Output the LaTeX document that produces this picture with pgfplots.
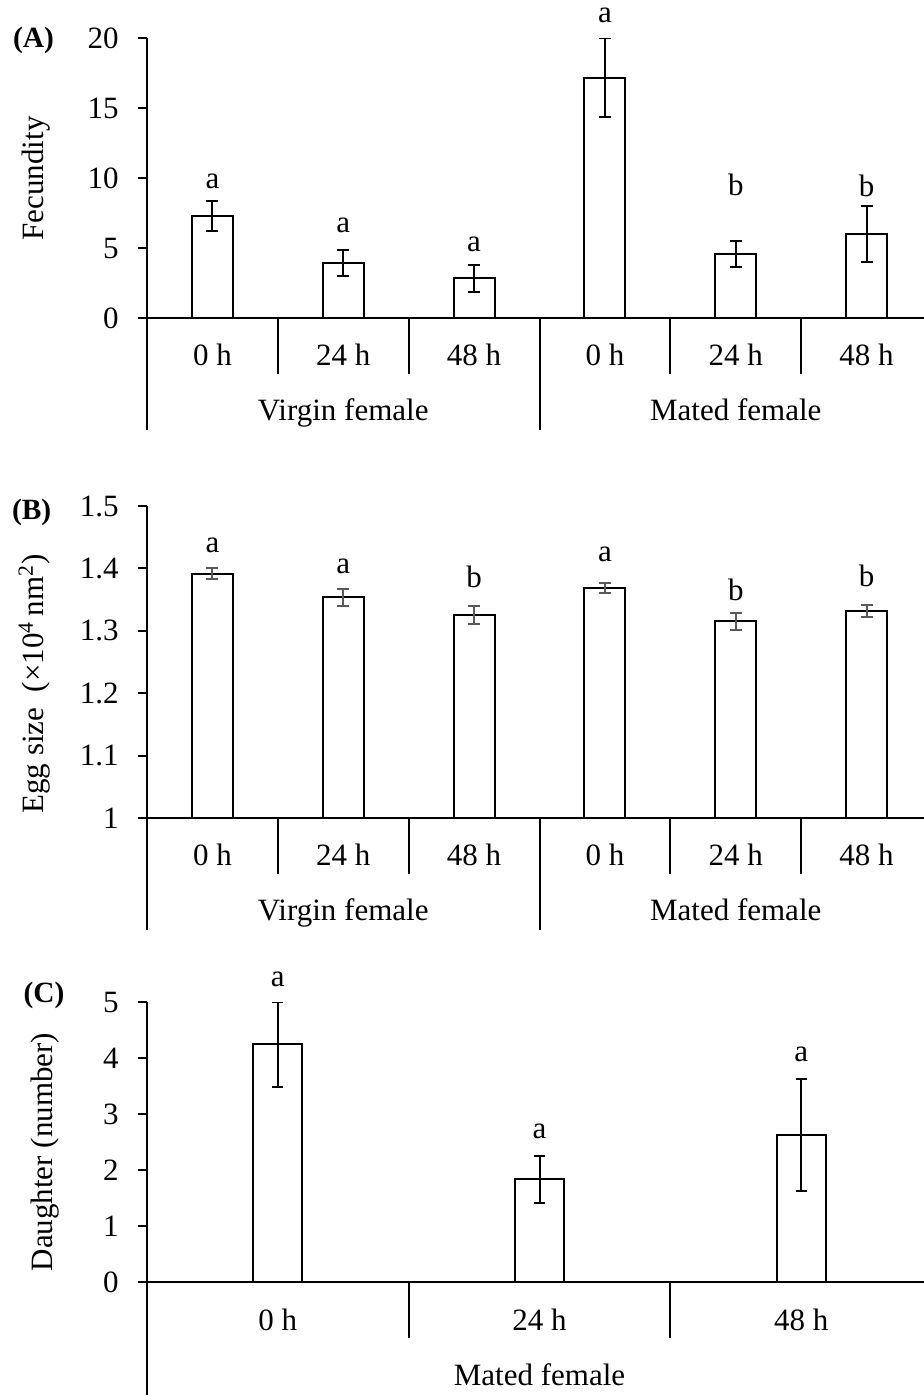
\documentclass[border=0pt]{standalone}
\usepackage{pgfplots}
\pgfplotsset{compat=1.18}
\usepackage{fontspec}
\setmainfont{Liberation Serif}
\newcommand{\fs}{\fontsize{15.5pt}{18pt}\selectfont}
\definecolor{errgray}{RGB}{89,89,89}

\pgfplotstableread{
x  y      e
0  7.31   1.10
1  3.95   0.95
2  2.86   0.95
3  17.19  2.82
4  4.61   0.93
5  6.02   2.03
}\fecund
\pgfplotstableread{
x  y       e
0  1.3916  0.0085
1  1.3538  0.0140
2  1.3260  0.0145
3  1.3680  0.0080
4  1.3153  0.0140
5  1.3323  0.0096
}\eggsize
\pgfplotstableread{
x  y      e
0  4.246  0.755
1  1.840  0.420
2  2.624  1.000
}\daughter

\pgfplotsset{
  panel/.style={
    scale only axis,
    width=392.5pt,
    axis lines*=left,
    axis line style={-, line width=1pt, black},
    tick align=outside,
    major tick length=4.7pt,
    ytick style={line width=1pt, black},
    xtick=\empty,
    clip mode=individual,
    font=\fs,
    tick label style={font=\fs},
    /pgf/number format/assume math mode=true,
    yticklabel style={anchor=east, inner sep=0pt, xshift=-9.3pt},
    every axis y label/.style={at={(axis description cs:-0.1321,0.5)}, rotate=90, anchor=base, font=\fs},
  },
  bars/.style={ybar, fill=white, draw=black, line width=1pt},
}

\begin{document}
\begin{tikzpicture}[font=\fs]
% ---------------- (A) ----------------
\begin{axis}[panel, at={(73.5pt,538.35pt)}, anchor=south west,
  height=140pt, xmin=-0.5, xmax=5.5, ymin=0, ymax=20,
  ytick={0,5,10,15,20}, ylabel={Fecundity}, bar width=20.5pt]
\addplot[bars, error bars/.cd, y dir=both, y explicit,
  error bar style={line width=1pt, black},
  error mark options={rotate=90, mark size=3pt, line width=1pt, black}]
  table[x=x, y=y, y error=e]{\fecund};
\pgfplotsinvokeforeach{0.5,1.5,3.5,4.5}{\draw[line width=1pt] (axis cs:#1,0) -- ++(0pt,-27.85pt);}
\pgfplotsinvokeforeach{-0.5,2.5,5.5}{\draw[line width=1pt] (axis cs:#1,0) -- ++(0pt,-56pt);}
\node[anchor=base] at (axis cs:0,0) [yshift=-23.7pt] {0 h};
\node[anchor=base] at (axis cs:1,0) [yshift=-23.7pt] {24 h};
\node[anchor=base] at (axis cs:2,0) [yshift=-23.7pt] {48 h};
\node[anchor=base] at (axis cs:3,0) [yshift=-23.7pt] {0 h};
\node[anchor=base] at (axis cs:4,0) [yshift=-23.7pt] {24 h};
\node[anchor=base] at (axis cs:5,0) [yshift=-23.7pt] {48 h};
\node[anchor=base] at (axis cs:1,0) [yshift=-51.2pt] {Virgin female};
\node[anchor=base] at (axis cs:4,0) [yshift=-51.2pt] {Mated female};
\node at (axis cs:0,9.76) {a};
\node at (axis cs:1,6.61) {a};
\node at (axis cs:2,5.27) {a};
\node at (axis cs:3,21.6) {a};
\node at (axis cs:4,9.56) {b};
\node at (axis cs:5,9.43) {b};
\end{axis}
% ---------------- (B) ----------------
\begin{axis}[panel, at={(73.5pt,288.35pt)}, anchor=south west,
  height=156.15pt, xmin=-0.5, xmax=5.5, ymin=1, ymax=1.5,
  ytick={1,1.1,1.2,1.3,1.4,1.5},
  ylabel={Egg size\ \ (×10\textsuperscript{4}\,nm\textsuperscript{2})},
  every axis y label/.append style={at={(axis description cs:-0.1321,0.43)}},
  bar width=20.5pt]
\addplot[bars, error bars/.cd, y dir=both, y explicit,
  error bar style={line width=1pt, errgray},
  error mark options={rotate=90, mark size=3pt, line width=1pt, errgray}]
  table[x=x, y=y, y error=e]{\eggsize};
\pgfplotsinvokeforeach{0.5,1.5,3.5,4.5}{\draw[line width=1pt] (axis cs:#1,1) -- ++(0pt,-27.85pt);}
\pgfplotsinvokeforeach{-0.5,2.5,5.5}{\draw[line width=1pt] (axis cs:#1,1) -- ++(0pt,-56pt);}
\node[anchor=base] at (axis cs:0,1) [yshift=-23.7pt] {0 h};
\node[anchor=base] at (axis cs:1,1) [yshift=-23.7pt] {24 h};
\node[anchor=base] at (axis cs:2,1) [yshift=-23.7pt] {48 h};
\node[anchor=base] at (axis cs:3,1) [yshift=-23.7pt] {0 h};
\node[anchor=base] at (axis cs:4,1) [yshift=-23.7pt] {24 h};
\node[anchor=base] at (axis cs:5,1) [yshift=-23.7pt] {48 h};
\node[anchor=base] at (axis cs:1,1) [yshift=-51.2pt] {Virgin female};
\node[anchor=base] at (axis cs:4,1) [yshift=-51.2pt] {Mated female};
\node at (axis cs:0,1.4367) {a};
\node at (axis cs:1,1.4028) {a};
\node at (axis cs:2,1.3860) {b};
\node at (axis cs:3,1.4220) {a};
\node at (axis cs:4,1.3655) {b};
\node at (axis cs:5,1.3880) {b};
\end{axis}
% ---------------- (C) ----------------
\begin{axis}[panel, at={(73.5pt,56.25pt)}, anchor=south west,
  height=140.25pt, xmin=-0.5, xmax=2.5, ymin=0, ymax=5,
  ytick={0,1,2,3,4,5}, ylabel={Daughter (number)},
  every axis y label/.append style={at={(axis description cs:-0.1201,0.465)}},
  bar width=24.35pt]
\addplot[bars, error bars/.cd, y dir=both, y explicit,
  error bar style={line width=1pt, black},
  error mark options={rotate=90, mark size=2.7pt, line width=1pt, black}]
  table[x=x, y=y, y error=e]{\daughter};
\pgfplotsinvokeforeach{0.5,1.5}{\draw[line width=1pt] (axis cs:#1,0) -- ++(0pt,-27.75pt);}
\pgfplotsinvokeforeach{-0.5,2.5}{\draw[line width=1pt] (axis cs:#1,0) -- ++(0pt,-56.5pt);}
\node[anchor=base] at (axis cs:0,0) [yshift=-23.75pt] {0 h};
\node[anchor=base] at (axis cs:1,0) [yshift=-23.75pt] {24 h};
\node[anchor=base] at (axis cs:2,0) [yshift=-23.75pt] {48 h};
\node[anchor=base] at (axis cs:1,0) [yshift=-51.25pt] {Mated female};
\node at (axis cs:0,5.41) {a};
\node at (axis cs:1,2.70) {a};
\node at (axis cs:2,4.06) {a};
\end{axis}
% panel letters
\node[anchor=base west, inner sep=0pt, font=\fontsize{14.7pt}{17pt}\selectfont\bfseries] at (6.35pt,673.5pt) {(A)};
\node[anchor=base west, inner sep=0pt, font=\fontsize{14.7pt}{17pt}\selectfont\bfseries] at (5.85pt,437.5pt) {(B)};
\node[anchor=base west, inner sep=0pt, font=\fontsize{14.7pt}{17pt}\selectfont\bfseries] at (11.65pt,196pt) {(C)};
\pgfresetboundingbox
\useasboundingbox (0,0) rectangle (462pt,697.5pt);
\end{tikzpicture}
\end{document}
